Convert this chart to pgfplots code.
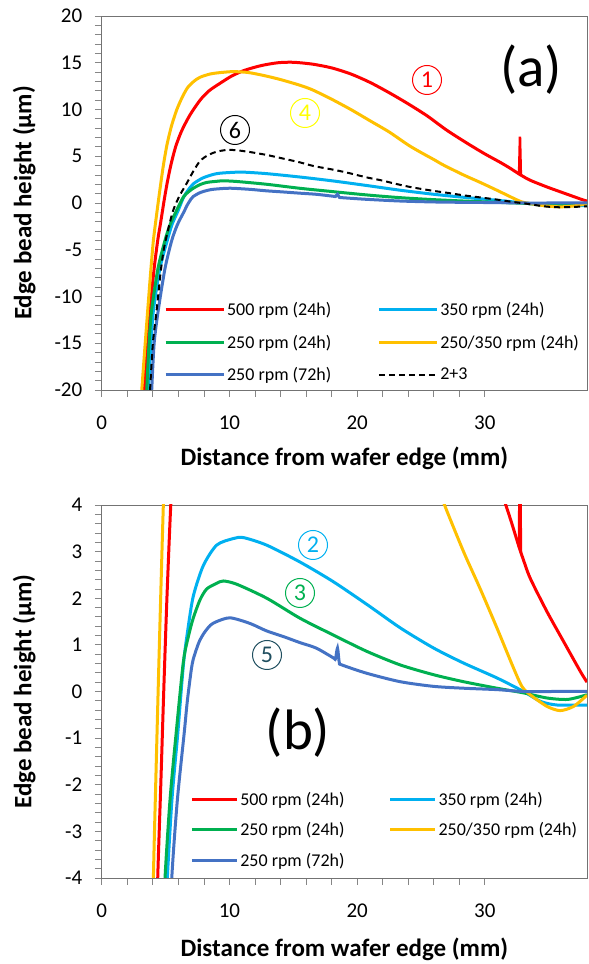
\documentclass[border=0pt]{standalone}
\usepackage{pgfplots}
\pgfplotsset{compat=1.18}
\usepackage{pgfplotstable}
\usepackage{fontspec}
\setmainfont{Carlito}
\definecolor{cRed}{RGB}{255,0,0}
\definecolor{cLB}{RGB}{0,176,240}
\definecolor{cGr}{RGB}{0,176,80}
\definecolor{cOr}{RGB}{255,192,0}
\definecolor{cBl}{RGB}{68,114,196}
\definecolor{cTeal}{RGB}{31,78,95}
\definecolor{cYel}{RGB}{255,255,0}
\definecolor{axgray}{RGB}{134,134,134}

\pgfplotstableread{
x y
3.33 -20
3.6 -15
3.85 -10.5
4.1 -7
4.38 -4
4.62 -2
4.85 0
5.1 2
5.4 4
5.78 6
6.25 7.7
6.9 9.4
7.7 11.0
8.4 12.0
9.26 12.8
10.2 13.6
11.2 14.2
12.5 14.7
13.8 15.0
15.0 15.05
16.5 14.85
18.0 14.45
19.5 13.8
21.0 12.9
22.5 11.8
24.0 10.6
25.5 9.3
27.0 7.8
28.6 6.4
30.0 5.25
31.2 4.35
32.0 3.7
32.7 3.08
33.0 2.84
33.55 2.43
34.87 1.71
36.17 1.07
37.48 0.43
38.0 0.2
}\tRed

\pgfplotstableread{
x y
32.68 3.1
32.75 7.1
32.82 2.98
}\tRedSpike

\pgfplotstableread{
x y
3.13 -20
3.4 -15
3.65 -10.5
3.85 -7
4.04 -4
4.24 -1.8
4.44 0.3
4.63 2.2
4.82 4
5.1 6.2
5.45 8.2
5.85 9.9
6.26 11.2
6.7 12.3
7.2 13.0
7.7 13.45
8.5 13.8
9.3 13.95
10.3 14.05
11.5 13.95
12.8 13.6
14.0 13.2
15.5 12.6
16.5 12.1
18.0 11.1
19.5 10.0
21.0 8.8
22.5 7.6
24.0 6.2
25.0 5.4
26.0 4.65
26.77 4.05
28.33 3.0
29.64 2.2
30.95 1.36
32.25 0.5
32.9 0.11
33.55 -0.07
34.87 -0.32
35.9 -0.41
36.95 -0.32
38.0 -0.08
}\tOr

\pgfplotstableread{
x y
3.65 -20
3.85 -15
4.05 -11.4
4.55 -7
5.13 -4
5.5 -2.3
5.95 -0.9
6.4 0.6
6.75 1.35
7.17 2.05
7.95 2.7
9.0 3.14
10.3 3.28
11.1 3.3
12.9 3.14
15.5 2.78
18.1 2.36
20.8 1.86
23.4 1.36
26.0 0.93
28.33 0.61
30.95 0.29
33.03 0.0
34.34 -0.21
35.65 -0.29
38.0 -0.29
}\tLB

\pgfplotstableread{
x y
3.52 -20
3.7 -15
3.91 -11.4
4.4 -7
4.95 -4
5.35 -2.3
5.82 -0.9
6.39 0.64
6.8 1.2
7.17 1.58
7.7 1.97
8.22 2.2
9.0 2.32
9.52 2.37
10.57 2.3
12.92 2.0
15.53 1.57
18.14 1.21
20.76 0.86
23.37 0.57
25.98 0.36
28.33 0.21
30.95 0.07
33.03 -0.03
34.87 -0.14
36.5 -0.17
38.0 -0.07
}\tGr

\pgfplotstableread{
x y
3.91 -20
4.1 -15
4.43 -11.4
4.95 -7
5.48 -4
5.92 -2.32
6.45 -0.9
6.7 -0.2
7.0 0.45
7.17 0.7
7.6 1.05
8.0 1.25
8.5 1.42
9.0 1.5
10.05 1.58
11.6 1.46
12.9 1.3
14.2 1.18
15.5 1.05
16.8 0.93
18.14 0.72
18.3 0.7
18.46 0.93
18.6 0.62
18.8 0.57
20.76 0.39
23.37 0.21
25.98 0.11
28.33 0.07
30.95 0.04
33.03 0.0
35.5 0.0
38.0 0.0
}\tBl

\pgfplotstableread{
x y
3.78 -20
4.0 -15
4.3 -11.4
4.6 -7.5
4.85 -5
5.2 -2.8
5.6 -0.75
6.1 0.8
6.65 2.1
7.17 3.4
7.7 4.5
8.3 5.1
9.0 5.49
9.79 5.67
10.5 5.65
11.6 5.45
12.9 5.14
14.2 4.75
15.5 4.35
16.6 3.95
18.1 3.57
19.2 3.25
20.8 2.72
21.8 2.45
23.4 1.93
24.4 1.65
26.0 1.29
27.0 1.1
28.33 0.82
29.6 0.6
30.95 0.36
32.25 0.1
33.03 -0.03
34.34 -0.3
34.87 -0.39
36.0 -0.46
38.0 -0.36
}\tDash

\pgfplotsset{
  edge/.style={
    scale only axis, width=485.2pt,
    xmin=0, xmax=38, xtick={0,10,20,30}, minor x tick num=4,
    tick align=outside, xtick pos=left, ytick pos=left,
    major tick length=7pt, minor tick length=7pt,
    every tick/.append style={axgray, line width=0.8pt},
    every minor tick/.append style={axgray, line width=0.8pt},
    axis line style={draw=black!55, line width=0.8pt},
    tick label style={font=\fontsize{21}{24}\selectfont},
    xticklabel style={yshift=-15pt},
    yticklabel style={xshift=-9pt},
    /pgf/number format/assume math mode=true,
    label style={font=\bfseries\fontsize{25}{28}\selectfont},
    xlabel={Distance from wafer edge (mm)},
    ylabel={Edge bead height (µm)},
    ylabel style={at={(axis description cs:-0.16,0.5)}, anchor=center},
    legend cell align=left,
    legend columns=2,
    legend style={draw=none, fill=none, font=\fontsize{18}{20}\selectfont, inner sep=0pt},
  },
  curve/.style={line width=3pt, smooth, tension=0.45},
}

\begin{document}
\begin{tikzpicture}
\useasboundingbox (0pt,0pt) rectangle (589pt,964pt);

\begin{axis}[edge, at={(101.8pt,574pt)}, anchor=south west, height=374pt,
  ymin=-20, ymax=20, ytick={-20,-15,...,20}, minor y tick num=4,
  xlabel style={at={(axis description cs:0.5,-0.182)}, anchor=center},
  legend image code/.code={\draw[#1] (0pt,0pt) -- (58pt,0pt);},
  legend style={at={(axis description cs:0.128,0.2406)}, anchor=north west, row sep=14pt,
    /tikz/every even column/.append style={column sep=44pt}},
]
\addplot[cRed, curve] table {\tRed};
\addlegendentry{500 rpm (24h)}
\addplot[cLB, curve] table {\tLB};
\addlegendentry{350 rpm (24h)}
\addplot[cGr, curve] table {\tGr};
\addlegendentry{250 rpm (24h)}
\addplot[cOr, curve] table {\tOr};
\addlegendentry{250/350 rpm (24h)}
\addplot[cBl, curve] table {\tBl};
\addlegendentry{250 rpm (72h)}
\addplot[black, line width=2pt, dash pattern=on 6pt off 4pt, smooth, tension=0.45] table {\tDash};
\addlegendentry{2+3}
\addplot[cRed, line width=2.5pt, forget plot] table {\tRedSpike};
\end{axis}

\begin{axis}[edge, at={(101.8pt,86pt)}, anchor=south west, height=373pt,
  ymin=-4, ymax=4, ytick={-4,...,4}, minor y tick num=4,
  xlabel style={at={(axis description cs:0.5,-0.19)}, anchor=center},
  legend image code/.code={\draw[#1] (0pt,0pt) -- (45pt,0pt);},
  legend style={at={(axis description cs:0.182,0.2366)}, anchor=north west, row sep=12pt,
    /tikz/every even column/.append style={column sep=42pt}},
]
\addplot[cRed, curve] table {\tRed};
\addlegendentry{500 rpm (24h)}
\addplot[cLB, curve] table {\tLB};
\addlegendentry{350 rpm (24h)}
\addplot[cGr, curve] table {\tGr};
\addlegendentry{250 rpm (24h)}
\addplot[cOr, curve] table {\tOr};
\addlegendentry{250/350 rpm (24h)}
\addplot[cBl, curve] table {\tBl};
\addlegendentry{250 rpm (72h)}
\addplot[cRed, line width=2.5pt, forget plot] table {\tRedSpike};
\end{axis}

\node[font=\fontsize{57}{60}\selectfont] at (531pt,894pt) {(a)};
\node[font=\fontsize{57}{60}\selectfont] at (298pt,231pt) {(b)};

\tikzset{cnum/.style={circle, draw=#1, text=#1, line width=1pt, minimum size=29pt, inner sep=0pt, font=\fontsize{24}{24}\selectfont}}
\node[cnum=cRed] at (427pt,884pt) {1};
\node[cnum=cYel] at (305pt,851pt) {4};
\node[cnum=black] at (235pt,834pt) {6};
\node[cnum=cLB] at (313pt,419pt) {2};
\node[cnum=cGr] at (300pt,371pt) {3};
\node[cnum=cTeal] at (267pt,309pt) {5};
\end{tikzpicture}
\end{document}
